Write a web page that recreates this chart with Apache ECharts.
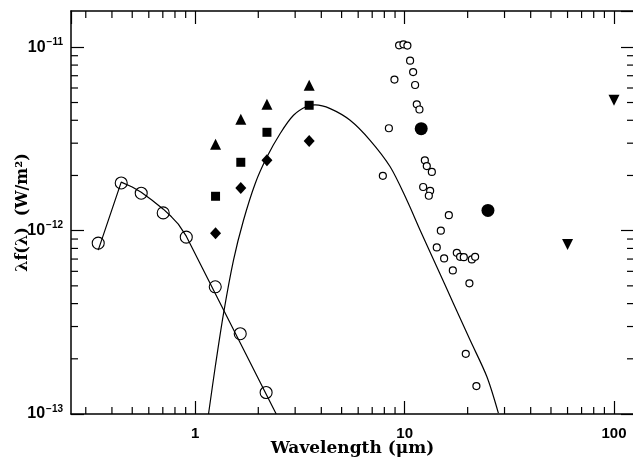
<!DOCTYPE html>
<html>
<head>
<meta charset="utf-8">
<script src="https://cdn.jsdelivr.net/npm/echarts@6/dist/echarts.min.js"></script>
<style>
  html, body { margin: 0; padding: 0; background: #fff; }
  #chart { width: 633px; height: 459px; }
</style>
</head>
<body>
<div id="chart"></div>
<script>
// axis ranges (log-log)
const xMin = 0.255, xMax = 124.6;
const yMin = 1e-13, yMax = 1.578e-11;

// optical photometry (large open circles) and the stellar model line through them
const opticalWave = [0.344, 0.443, 0.552, 0.703, 0.906, 1.246, 1.64, 2.18];
const opticalFlux = [8.55e-13, 1.82e-12, 1.60e-12, 1.25e-12, 9.22e-13, 4.94e-13, 2.74e-13, 1.31e-13];
const opticalModelWave = [0.344, 0.443, 0.50, 0.552, 0.62, 0.704, 0.77, 0.830, 0.906, 2.436];
const opticalModelFlux = [7.83e-13, 1.84e-12, 1.73e-12, 1.62e-12, 1.47e-12, 1.31e-12, 1.19e-12, 1.085e-12, 9.33e-13, 1.0e-13];

// near-IR photometry, J H K L
const nirWave = [1.25, 1.65, 2.2, 3.5];
const triangleFlux = [2.96e-12, 4.05e-12, 4.89e-12, 6.21e-12];
const squareFlux = [1.54e-12, 2.36e-12, 3.44e-12, 4.83e-12];
const diamondFlux = [9.69e-13, 1.71e-12, 2.42e-12, 3.08e-12];

// dust shell curve
const dustWave = [1.157, 1.246, 1.365, 1.523, 1.70, 1.934, 2.199, 2.545, 2.946, 3.414, 3.74,
  4.41, 5.49, 6.84, 8.53, 10.24, 11.86, 14.24, 17.10, 20.54, 24.69, 28.04];
const dustFlux = [1.0e-13, 1.81e-13, 3.54e-13, 6.91e-13, 1.14e-12, 1.81e-12, 2.52e-12, 3.39e-12,
  4.26e-12, 4.77e-12, 4.85e-12, 4.63e-12, 4.0e-12, 3.11e-12, 2.23e-12, 1.47e-12, 1.006e-12,
  6.35e-13, 4.01e-13, 2.53e-13, 1.60e-13, 1.01e-13];

// mid-IR spectrum points (small open circles)
const lrsWave = [9.41, 9.87, 10.31, 10.62, 10.98, 8.94, 11.22, 11.43, 11.77, 8.41, 12.49, 12.76,
  13.49, 7.87, 12.26, 13.24, 13.05, 16.26, 14.89, 14.24, 15.44, 17.75, 18.40, 19.17, 20.94,
  21.71, 16.99, 20.39, 19.59, 22.02];
const lrsFlux = [1.025e-11, 1.038e-11, 1.022e-11, 8.46e-12, 7.33e-12, 6.67e-12, 6.23e-12, 4.89e-12,
  4.58e-12, 3.62e-12, 2.42e-12, 2.25e-12, 2.09e-12, 1.99e-12, 1.73e-12, 1.65e-12, 1.55e-12,
  1.215e-12, 1.0e-12, 8.1e-13, 7.06e-13, 7.57e-13, 7.2e-13, 7.17e-13, 6.97e-13, 7.2e-13,
  6.07e-13, 5.16e-13, 2.13e-13, 1.42e-13];

// IRAS 12/25 detections and 60/100 upper limits
const irasWave = [12, 25];
const irasFlux = [3.6e-12, 1.29e-12];
const limitWave = [60, 100];
const limitFlux = [8.41e-13, 5.14e-12];

// minor ticks of the log axes
const xMinorTicks = [0.3, 0.4, 0.5, 0.6, 0.7, 0.8, 0.9, 2, 3, 4, 5, 6, 7, 8, 9,
  20, 30, 40, 50, 60, 70, 80, 90];
const yMinorTicks = [2e-13, 3e-13, 4e-13, 5e-13, 6e-13, 7e-13, 8e-13, 9e-13,
  2e-12, 3e-12, 4e-12, 5e-12, 6e-12, 7e-12, 8e-12, 9e-12];

const zip = (xs, ys) => xs.map((x, i) => [x, ys[i]]);
const INK = "#000";
const MINOR_LEN = 7;

function xTickItem(params, api) {
  const cs = params.coordSys;
  const x = api.coord([api.value(0), api.value(1)])[0];
  const style = {stroke: INK, lineWidth: 1.2};
  return {
    type: "group",
    children: [
      {type: "line", shape: {x1: x, y1: cs.y + cs.height, x2: x, y2: cs.y + cs.height - MINOR_LEN}, style},
      {type: "line", shape: {x1: x, y1: cs.y, x2: x, y2: cs.y + MINOR_LEN}, style},
    ],
  };
}

function yTickItem(params, api) {
  const cs = params.coordSys;
  const y = api.coord([api.value(0), api.value(1)])[1];
  const style = {stroke: INK, lineWidth: 1.2};
  return {
    type: "group",
    children: [
      {type: "line", shape: {x1: cs.x, y1: y, x2: cs.x + MINOR_LEN, y2: y}, style},
      {type: "line", shape: {x1: cs.x + cs.width, y1: y, x2: cs.x + cs.width - MINOR_LEN, y2: y}, style},
    ],
  };
}

const logAxisBase = {
  type: "log",
  logBase: 10,
  axisLine: {show: true, lineStyle: {color: INK, width: 1.5}},
  axisTick: {show: true, inside: true, length: 13, lineStyle: {color: INK, width: 1.2}},
  splitLine: {show: false},
  minorTick: {show: false},
};

const solid = (extra) => ({color: INK, opacity: 1, ...extra});

const chart = echarts.init(document.getElementById("chart"), null, {renderer: "canvas"});

const option = {
  backgroundColor: "#fff",
  animation: false,
  grid: {left: 71, right: -1, top: 11, bottom: 45, containLabel: false, outerBoundsMode: "none"},
  xAxis: [
    {
      ...logAxisBase,
      position: "bottom",
      min: xMin,
      max: xMax,
      axisLabel: {
        color: INK,
        fontFamily: "Liberation Sans",
        fontWeight: "bold",
        fontSize: 15,
        margin: 12,
        showMinLabel: false,
        showMaxLabel: false,
        formatter: (v) => String(Math.round(v)),
      },
      name: "Wavelength (μm)",
      nameLocation: "middle",
      nameGap: 26,
      nameMoveOverlap: false,
      nameTextStyle: {
        color: INK,
        fontFamily: "DejaVu Serif",
        fontWeight: "bold",
        fontSize: 17,
      },
    },
    {
      ...logAxisBase,
      position: "top",
      min: xMin,
      max: xMax,
      axisLabel: {show: false},
    },
  ],
  yAxis: [
    {
      ...logAxisBase,
      position: "left",
      min: yMin,
      max: yMax,
      axisLabel: {
        color: INK,
        margin: 8,
        showMaxLabel: false,
        formatter: (v) => "{b|10}{e|−" + Math.round(-Math.log10(v)) + "}",
        rich: {
          b: {fontFamily: "Liberation Sans", fontWeight: "bold", fontSize: 16, color: INK},
          e: {fontFamily: "Liberation Sans", fontWeight: "bold", fontSize: 10, color: INK, padding: [0, 0, 10, 1]},
        },
      },
      name: "λf(λ)  (W/m²)",
      nameLocation: "middle",
      nameGap: 40,
      nameRotate: 90,
      nameMoveOverlap: false,
      nameTextStyle: {
        color: INK,
        fontFamily: "DejaVu Serif",
        fontWeight: "bold",
        fontSize: 16,
      },
    },
    {
      ...logAxisBase,
      position: "right",
      min: yMin,
      max: yMax,
      axisLabel: {show: false},
    },
  ],
  series: [
    {
      type: "line",
      name: "optical model",
      data: zip(opticalModelWave, opticalModelFlux),
      showSymbol: false,
      lineStyle: {color: INK, width: 1.2},
      z: 2,
    },
    {
      type: "line",
      name: "dust",
      data: zip(dustWave, dustFlux),
      showSymbol: false,
      smooth: 0.3,
      clip: true,
      lineStyle: {color: INK, width: 1.2},
      z: 2,
    },
    {
      type: "scatter",
      name: "optical",
      data: zip(opticalWave, opticalFlux),
      symbol: "circle",
      symbolSize: 12,
      itemStyle: {color: "rgba(255,255,255,0)", opacity: 1, borderColor: INK, borderWidth: 1.1},
      z: 3,
    },
    {
      type: "scatter",
      data: zip(nirWave, triangleFlux),
      symbol: "triangle",
      symbolSize: 11,
      itemStyle: solid(),
      z: 3,
    },
    {
      type: "scatter",
      data: zip(nirWave, squareFlux),
      symbol: "rect",
      symbolSize: 9,
      itemStyle: solid(),
      z: 3,
    },
    {
      type: "scatter",
      data: zip(nirWave, diamondFlux),
      symbol: "diamond",
      symbolSize: [11, 12],
      itemStyle: solid(),
      z: 3,
    },
    {
      type: "scatter",
      data: zip(lrsWave, lrsFlux),
      symbol: "circle",
      symbolSize: 7,
      itemStyle: {color: "#fff", opacity: 1, borderColor: INK, borderWidth: 1.2},
      z: 3,
    },
    {
      type: "scatter",
      data: zip(irasWave, irasFlux),
      symbol: "circle",
      symbolSize: 13,
      itemStyle: solid(),
      z: 3,
    },
    {
      type: "scatter",
      data: zip(limitWave, limitFlux),
      symbol: "triangle",
      symbolRotate: 180,
      symbolSize: 11,
      itemStyle: solid(),
      z: 3,
    },
    {
      type: "custom",
      silent: true,
      renderItem: xTickItem,
      data: xMinorTicks.map((v) => [v, 1e-12]),
      z: 5,
    },
    {
      type: "custom",
      silent: true,
      renderItem: yTickItem,
      data: yMinorTicks.map((v) => [1, v]),
      z: 5,
    },
  ],
};

chart.setOption(option);
</script>
</body>
</html>
